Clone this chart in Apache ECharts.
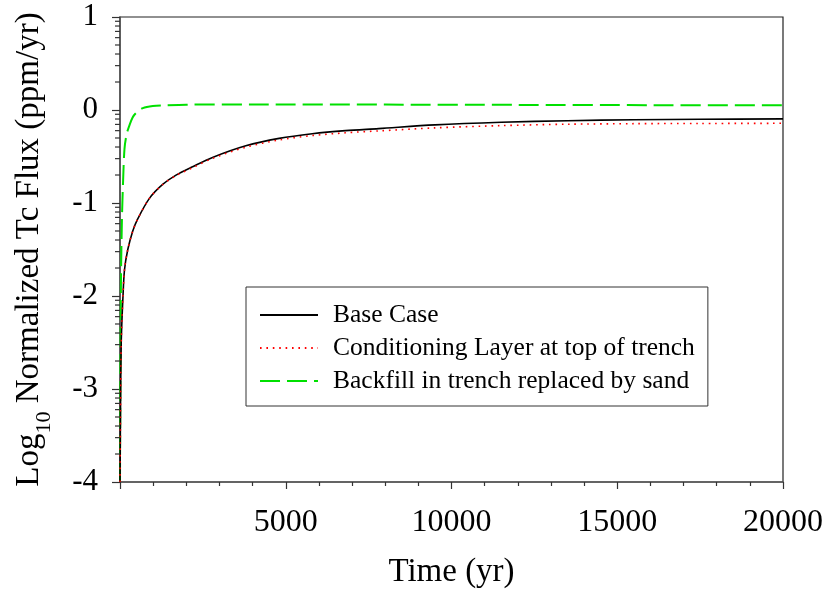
<!DOCTYPE html>
<html>
<head>
<meta charset="utf-8">
<script src="https://cdn.jsdelivr.net/npm/echarts@6/dist/echarts.min.js"></script>
<style>
html,body{margin:0;padding:0;background:#fff;}
#chart{width:826px;height:596px;}
</style>
</head>
<body>
<div id="chart"></div>
<script>
// Time (yr), log10 flux pairs
const baseCase = [
  [0,-4],[8,-3.6],[20,-3.0],[36,-2.52],[60,-2.25],[84,-2.05],[135,-1.72],[235,-1.5],
  [385,-1.3],[535,-1.17],[887,-0.95],[1287,-0.8],[1690,-0.7],[2190,-0.61],[2790,-0.51],
  [3795,-0.385],[4800,-0.305],[5800,-0.255],[6800,-0.222],[7800,-0.2],[9500,-0.16],
  [11500,-0.132],[13500,-0.115],[15500,-0.105],[17500,-0.1],[20000,-0.095]
];
const conditioningLayer = [
  [0,-4],[8,-3.6],[20,-3.0],[36,-2.52],[60,-2.25],[84,-2.05],[135,-1.72],[235,-1.5],
  [385,-1.3],[535,-1.17],[887,-0.95],[1287,-0.802],[1690,-0.705],[2190,-0.62],[2790,-0.52],
  [3795,-0.4],[4800,-0.322],[5800,-0.275],[6800,-0.245],[7800,-0.225],[9500,-0.192],
  [11500,-0.168],[13500,-0.153],[15500,-0.147],[17500,-0.145],[20000,-0.143]
];
const backfillSand = [
  [0,-4],[10,-3.0],[30,-1.8],[60,-1.15],[90,-0.8],[135,-0.42],[200,-0.26],[280,-0.17],
  [380,-0.08],[490,-0.03],[690,0.02],[990,0.042],[1400,0.05],[2000,0.057],[4000,0.06],
  [8000,0.058],[12000,0.055],[16000,0.052],[20000,0.05]
];
const seriesNames = ['Base Case','Conditioning Layer at top of trench','Backfill in trench replaced by sand'];
// log-decade minor tick positions on the y axis
const minorFractions = [0.301,0.477,0.602,0.699,0.778,0.845,0.903,0.954];
const decades = [-4,-3,-2,-1,0];

const minorTicks = [];
decades.forEach(d => minorFractions.forEach(f => minorTicks.push([0, d + f])));

const FONT = "'Liberation Serif','Times New Roman',serif";
const chart = echarts.init(document.getElementById('chart'), null, {renderer:'canvas'});
chart.setOption({
  animation:false,
  backgroundColor:'#fff',
  grid:{left:120, right:41, top:17, bottom:114, show:true, borderColor:'#222', borderWidth:1.2, backgroundColor:'transparent'},
  legend:{
    data:seriesNames,
    orient:'vertical', left:246, top:287,
    padding:[15,13,12,13],
    itemWidth:58, itemHeight:14, itemGap:7,
    borderColor:'#333', borderWidth:1, backgroundColor:'#fff',
    itemStyle:{opacity:0},
    textStyle:{fontFamily:FONT, fontSize:25.5, color:'#000', lineHeight:26, padding:[0,0,0,10]}
  },
  xAxis:{
    type:'value', min:0, max:20000, interval:5000,
    name:'Time (yr)', nameLocation:'middle', nameGap:74,
    nameTextStyle:{fontFamily:FONT, fontSize:33, color:'#000'},
    axisLine:{show:true, onZero:false, lineStyle:{color:'#555', width:1.5}},
    axisTick:{show:true, inside:false, length:7, lineStyle:{color:'#333', width:1.2}},
    minorTick:{show:true, splitNumber:5, length:4, lineStyle:{color:'#333', width:1.2}},
    axisLabel:{fontFamily:FONT, fontSize:32, color:'#000', margin:25,
      formatter:v => v === 0 ? '' : String(v)},
    splitLine:{show:false}
  },
  yAxis:{
    type:'value', min:-4, max:1, interval:1,
    name:'{n|Log}{s|10}{n| Normalized Tc Flux (ppm/yr)}', nameLocation:'middle', nameGap:74,
    nameTextStyle:{fontFamily:FONT, fontSize:33, color:'#000',
      rich:{
        n:{fontFamily:FONT, fontSize:33, color:'#000', verticalAlign:'bottom', lineHeight:36},
        s:{fontFamily:FONT, fontSize:22, color:'#000', verticalAlign:'bottom', lineHeight:36, padding:[0,0,-9,0]}
      }},
    axisLine:{show:true, onZero:false, lineStyle:{color:'#555', width:1.5}},
    axisTick:{show:true, inside:false, length:8, lineStyle:{color:'#333', width:1.2}},
    axisLabel:{fontFamily:FONT, fontSize:31, color:'#000', margin:22},
    splitLine:{show:false}
  },
  series:[
    {name:seriesNames[0], type:'line', data:baseCase, showSymbol:false, symbol:'none', smooth:0.3,
      lineStyle:{color:'#000', width:1.6, type:'solid'}, itemStyle:{color:'#000'}, z:3},
    {name:seriesNames[1], type:'line', data:conditioningLayer, showSymbol:false, symbol:'none', smooth:0.3,
      lineStyle:{color:'#ff0000', width:1.6, type:[1.6,4.8]}, itemStyle:{color:'#ff0000'}, z:4},
    {name:seriesNames[2], type:'line', data:backfillSand, showSymbol:false, symbol:'none', smooth:0.3,
      lineStyle:{color:'#00e000', width:2, type:[20,7]}, itemStyle:{color:'#00e000'}, z:2},
    {name:'minorTicks', type:'custom', data:minorTicks, clip:false, silent:true, z:5,
      renderItem:(params, api) => {
        const p = api.coord([api.value(0), api.value(1)]);
        return {type:'line', shape:{x1:p[0]-5, y1:p[1], x2:p[0], y2:p[1]},
          style:{stroke:'#333', lineWidth:1.2}};
      }}
  ]
});
</script>
</body>
</html>
